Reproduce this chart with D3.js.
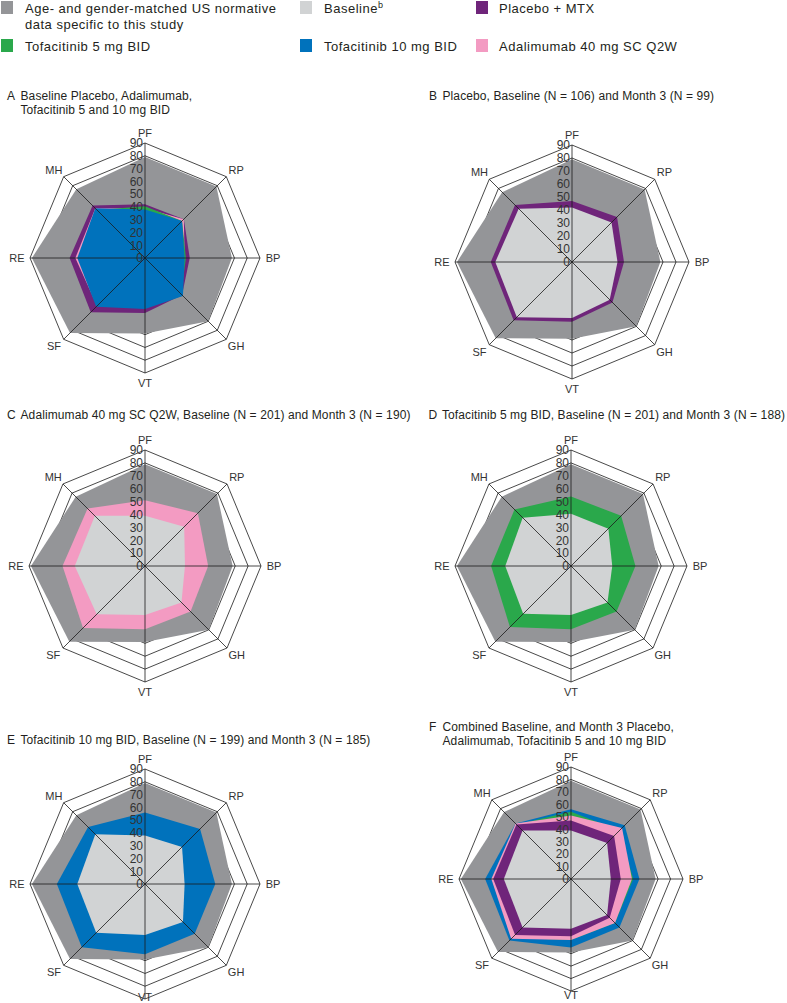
<!DOCTYPE html>
<html lang="en">
<head>
<meta charset="utf-8">
<title>SF-36 domain radar charts</title>
<script src="https://cdn.jsdelivr.net/npm/d3@7"></script>
<style>
  body { margin: 0; background: #fff; }
  svg text { font-family: "Liberation Sans", Arial, sans-serif; fill: #231f20; }
</style>
</head>
<body>
<script>
// SF-36 domains, clockwise from the top
var axes = ["PF", "RP", "BP", "GH", "VT", "SF", "RE", "MH"];
var ticks = [0, 10, 20, 30, 40, 50, 60, 70, 80, 90];

// age- and gender-matched US normative data
var normative = [79, 79, 68, 70, 59, 83, 88.5, 76];

// baseline scores
var basePlacebo = [42, 43, 35, 41, 43, 60, 59, 58];
var baseAdalimumab = [39, 43, 31, 40, 38, 53, 54.5, 55];
var baseTofa5 = [40.5, 41, 32, 40, 38, 52.5, 51, 53];
var baseTofa10 = [38, 41, 31, 42, 40, 54, 53, 55];
var baseCombined = [39, 41, 32, 41, 40, 55, 54, 55];

// month 3 scores
var m3Placebo = [47, 49, 40, 44, 46, 63.5, 62.5, 62];
var m3Adalimumab = [51, 58, 49, 50, 49, 68, 64, 63];
var m3Tofa5 = [54, 55, 50, 50, 49, 67, 62, 62];
var m3Tofa10 = [56, 61, 55, 55, 55, 70, 69, 63];

var col = {
  norm: "#949598", base: "#d1d3d4", placebo: "#6f257a",
  tofa5: "#2aa84b", tofa10: "#0072bc", ada: "#f39bc2"
};

var W = 787, H = 1003;
var svg = d3.select("body").append("svg").attr("width", W).attr("height", H);

// legend
var legend = [
  {c: col.norm, x: 1, y: 1, tx: 25, lines: ["Age- and gender-matched US normative", "data specific to this study"]},
  {c: col.base, x: 300, y: 1, tx: 324, lines: ["Baseline"], sup: "b"},
  {c: col.placebo, x: 476, y: 1, tx: 499, lines: ["Placebo + MTX"]},
  {c: col.tofa5, x: 1, y: 39, tx: 25, lines: ["Tofacitinib 5 mg BID"]},
  {c: col.tofa10, x: 300, y: 39, tx: 324, lines: ["Tofacitinib 10 mg BID"]},
  {c: col.ada, x: 476, y: 39, tx: 499, lines: ["Adalimumab 40 mg SC Q2W"]}
];
legend.forEach(function(d) {
  svg.append("rect").attr("x", d.x).attr("y", d.y).attr("width", 12).attr("height", 13).attr("fill", d.c);
  d.lines.forEach(function(l, i) {
    var t = svg.append("text").attr("x", d.tx).attr("y", d.y + 11.5 + i * 16)
      .style("font-size", "13px").style("letter-spacing", "0.5px").text(l);
    if (d.sup && i == 0) t.append("tspan").attr("dy", -5).style("font-size", "9px").text(d.sup);
  });
});

// panels (vtOff: distance of the VT label below the centre, where it was squeezed in)
var panels = [
  {cx: 145, cy: 258, r: 115, tx: 7, ty: 100, letter: "A",
   title: ["Baseline Placebo, Adalimumab,", "Tofacitinib 5 and 10 mg BID"],
   layers: [[normative, col.norm], [basePlacebo, col.placebo], [baseAdalimumab, col.ada], [baseTofa5, col.tofa5], [baseTofa10, col.tofa10]]},
  {cx: 572, cy: 262, r: 117, tx: 429, ty: 99.5, letter: "B",
   title: ["Placebo, Baseline (N = 106) and Month 3 (N = 99)"],
   layers: [[normative, col.norm], [m3Placebo, col.placebo], [basePlacebo, col.base]]},
  {cx: 145, cy: 566, r: 116, tx: 7, ty: 418.5, letter: "C",
   title: ["Adalimumab 40 mg SC Q2W, Baseline (N = 201) and Month 3 (N = 190)"],
   layers: [[normative, col.norm], [m3Adalimumab, col.ada], [baseAdalimumab, col.base]]},
  {cx: 571, cy: 566, r: 116, tx: 428.5, ty: 418.5, letter: "D",
   title: ["Tofacitinib 5 mg BID, Baseline (N = 201) and Month 3 (N = 188)"],
   layers: [[normative, col.norm], [m3Tofa5, col.tofa5], [baseTofa5, col.base]]},
  {cx: 145, cy: 884, r: 115, tx: 7, ty: 744, letter: "E", vtOff: 113,
   title: ["Tofacitinib 10 mg BID, Baseline (N = 199) and Month 3 (N = 185)"],
   layers: [[normative, col.norm], [m3Tofa10, col.tofa10], [baseTofa10, col.base]]},
  {cx: 571, cy: 879, r: 112, tx: 429, ty: 730.5, letter: "F", vtOff: 116,
   title: ["Combined Baseline, and Month 3 Placebo,", "Adalimumab, Tofacitinib 5 and 10 mg BID"],
   layers: [[normative, col.norm], [m3Tofa10, col.tofa10], [m3Tofa5, col.tofa5], [m3Adalimumab, col.ada], [m3Placebo, col.placebo], [baseCombined, col.base]]}
];

var angle = d3.scaleLinear().domain([0, axes.length]).range([0, 2 * Math.PI]);

panels.forEach(function(p) {
  var rScale = d3.scaleLinear().domain([0, 90]).range([0, p.r]);
  var line = d3.lineRadial()
    .angle(function(d, i) { return angle(i); })
    .radius(function(d) { return rScale(d); })
    .curve(d3.curveLinearClosed);

  // title
  svg.append("text").attr("x", p.tx).attr("y", p.ty).style("font-size", "12px").text(p.letter);
  p.title.forEach(function(l, i) {
    svg.append("text").attr("x", p.tx + 13.5).attr("y", p.ty + i * 14.3)
      .style("font-size", "12px").style("letter-spacing", "0.1px").text(l);
  });

  var g = svg.append("g").attr("transform", "translate(" + p.cx + "," + p.cy + ")");

  // rings
  g.selectAll("path.ring").data(ticks.slice(1)).enter().append("path")
    .attr("class", "ring")
    .attr("d", function(t) { return line(axes.map(function() { return t; })); })
    .attr("fill", "none").attr("stroke", "#1a1a1a").attr("stroke-width", 0.8);

  // filled areas
  g.selectAll("path.area").data(p.layers).enter().append("path")
    .attr("class", "area")
    .attr("d", function(d) { return line(d[0]); })
    .attr("fill", function(d) { return d[1]; });

  // spokes
  g.selectAll("line.spoke").data(axes).enter().append("line")
    .attr("x1", 0).attr("y1", 0)
    .attr("x2", function(d, i) { return rScale(90) * Math.sin(angle(i)); })
    .attr("y2", function(d, i) { return -rScale(90) * Math.cos(angle(i)); })
    .attr("stroke", "#1a1a1a").attr("stroke-width", 0.8);

  // tick labels on the PF axis
  g.selectAll("text.tick").data(ticks).enter().append("text")
    .attr("x", -2).attr("y", function(t) { return -rScale(t); })
    .attr("text-anchor", "end").attr("dy", "0.36em")
    .style("font-size", "12px").style("fill", "#333").text(function(t) { return t; });

  // axis labels
  g.selectAll("text.axis").data(axes).enter().append("text")
    .attr("x", function(d, i) { return (rScale(90) + 11) * Math.sin(angle(i)) + 2 * Math.round(Math.sin(angle(i))); })
    .attr("y", function(d, i) {
      if (d == "VT" && p.vtOff) return p.vtOff;
      return -(rScale(90) + 10) * Math.cos(angle(i));
    })
    .attr("text-anchor", "middle").attr("dy", "0.36em")
    .style("font-size", "11px").style("fill", "#333").text(function(d) { return d; });
});
</script>
</body>
</html>
